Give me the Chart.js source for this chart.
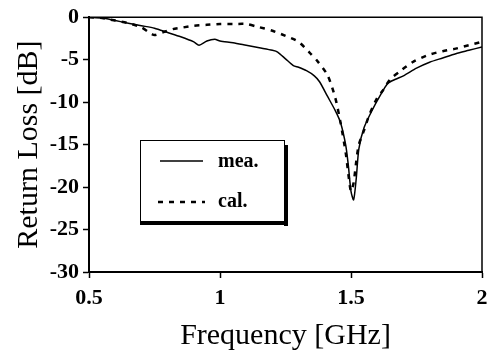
<!DOCTYPE html>
<html>
<head>
<meta charset="utf-8">
<script src="https://cdn.jsdelivr.net/npm/chart.js@4/dist/chart.umd.min.js"></script>
<style>
  body { margin: 0; background: #fff; }
  #wrap { width: 495px; height: 355px; }
</style>
</head>
<body>
<div id="wrap"><canvas id="rlCanvas" width="495" height="355"></canvas></div>
<script>
///// données
let freqMea = [0.5, 0.55, 0.6, 0.65, 0.7, 0.75, 0.8, 0.85, 0.9, 0.92, 0.95, 0.98, 1.0, 1.05, 1.1, 1.15, 1.2, 1.22, 1.25, 1.28, 1.3, 1.33, 1.36, 1.38, 1.41, 1.44, 1.46, 1.48, 1.49, 1.5, 1.51, 1.52, 1.53, 1.55, 1.58, 1.61, 1.64, 1.67, 1.7, 1.75, 1.8, 1.85, 1.9, 1.95, 2.0];
let lossMea = [0, -0.1, -0.4, -0.7, -1.0, -1.3, -1.8, -2.3, -2.9, -3.3, -2.8, -2.6, -2.8, -3.0, -3.3, -3.6, -3.9, -4.1, -4.9, -5.7, -5.9, -6.3, -6.9, -7.6, -9.3, -11.0, -12.4, -15.1, -17.5, -20.5, -21.5, -19.0, -15.5, -13.0, -11.0, -9.3, -7.8, -7.3, -6.9, -6.0, -5.3, -4.8, -4.3, -3.9, -3.5];

let freqCal = [0.5, 0.55, 0.6, 0.65, 0.7, 0.73, 0.75, 0.78, 0.82, 0.86, 0.9, 0.95, 1.0, 1.05, 1.1, 1.14, 1.2, 1.25, 1.3, 1.34, 1.37, 1.41, 1.44, 1.46, 1.48, 1.49, 1.5, 1.51, 1.52, 1.53, 1.55, 1.57, 1.6, 1.62, 1.65, 1.69, 1.74, 1.8, 1.85, 1.9, 1.95, 2.0];
let lossCal = [0, -0.1, -0.4, -0.7, -1.2, -1.8, -2.1, -1.8, -1.4, -1.2, -1.0, -0.9, -0.8, -0.8, -0.8, -1.1, -1.6, -2.2, -2.9, -4.1, -5.1, -6.8, -9.5, -12.4, -16.0, -18.5, -20.5, -19.5, -17.0, -15.0, -13.3, -11.5, -9.5, -8.7, -7.3, -6.3, -5.2, -4.4, -4.0, -3.7, -3.3, -2.9];

let xTicks = [0.5, 1, 1.5, 2];
let yTicks = [0, -5, -10, -15, -20, -25, -30];
let legendLabels = ["mea.", "cal."];

///// points x/y
let ptsMea = [];
for (let i = 0; i < freqMea.length; i++) {
    ptsMea.push({x: freqMea[i], y: lossMea[i]});
}
let ptsCal = [];
for (let i = 0; i < freqCal.length; i++) {
    ptsCal.push({x: freqCal[i], y: lossCal[i]});
}

const serif = "'Liberation Serif', 'DejaVu Serif', serif";

///// cadre haut/droite + légende encadrée
const cadre = {
    id: "cadre",
    afterDraw(chart) {
        const ctx = chart.ctx;
        const a = chart.chartArea;
        ctx.save();
        ctx.strokeStyle = "#000";
        ctx.lineWidth = 1.5;
        ctx.beginPath();
        ctx.moveTo(a.left, a.top);
        ctx.lineTo(a.right, a.top);
        ctx.lineTo(a.right, a.bottom);
        ctx.stroke();

        // légende
        const bx = 140, by = 140, bw = 144, bh = 81;
        ctx.fillStyle = "#fff";
        ctx.fillRect(bx, by, bw, bh);
        ctx.lineWidth = 1;
        ctx.strokeRect(bx + 0.5, by + 0.5, bw, bh);
        ctx.fillStyle = "#000";
        ctx.fillRect(bx, by + bh, bw + 4, 4);
        ctx.fillRect(bx + bw, by + 5, 4, bh);

        ctx.lineWidth = 1.5;
        ctx.setLineDash([]);
        ctx.beginPath();
        ctx.moveTo(160, 161);
        ctx.lineTo(203, 161);
        ctx.stroke();
        ctx.lineWidth = 2.5;
        ctx.setLineDash([5, 6]);
        ctx.beginPath();
        ctx.moveTo(158, 202);
        ctx.lineTo(205, 202);
        ctx.stroke();
        ctx.setLineDash([]);

        ctx.font = "bold 20px " + serif;
        ctx.textBaseline = "middle";
        ctx.textAlign = "left";
        ctx.fillText(legendLabels[0], 218, 162);
        ctx.fillText(legendLabels[1], 218, 202);
        ctx.restore();
    }
};

///// création du graphique
let graph = document.getElementById("rlCanvas");
let rlChart = new Chart(graph, {
    type: "line",
    data: {
        datasets: [{
            data: ptsMea,
            label: legendLabels[0],
            borderColor: "#000",
            borderWidth: 1.5,
            pointRadius: 0,
            tension: 0.25
        }, {
            data: ptsCal,
            label: legendLabels[1],
            borderColor: "#000",
            borderWidth: 2.5,
            borderDash: [5, 6],
            pointRadius: 0,
            tension: 0.25
        }]
    },
    plugins: [cadre],
    options: {
        responsive: false,
        animation: false,
        layout: { padding: { left: 0, top: 13, right: 13, bottom: 0 } },
        plugins: {
            legend: { display: false },
            tooltip: { enabled: false }
        },
        scales: {
            x: {
                type: "linear",
                min: 0.5,
                max: 2,
                afterBuildTicks: (s) => { s.ticks = xTicks.map(v => ({value: v})); },
                afterFit: (s) => { s.height = 83; },
                border: { color: "#000", width: 2 },
                grid: { drawOnChartArea: false, color: "#000", tickLength: 6, tickWidth: 1.5 },
                ticks: {
                    color: "#000",
                    padding: 7,
                    maxRotation: 0,
                    font: { family: serif, size: 22, weight: "bold" },
                    callback: (v) => String(v)
                },
                title: {
                    display: true,
                    text: "Frequency [GHz]",
                    color: "#000",
                    font: { family: serif, size: 30 },
                    padding: { top: 0, bottom: 1 }
                }
            },
            y: {
                min: -30,
                max: 0,
                afterBuildTicks: (s) => { s.ticks = yTicks.map(v => ({value: v})); },
                afterFit: (s) => { s.width = 89; },
                border: { color: "#000", width: 2 },
                grid: { drawOnChartArea: false, color: "#000", tickLength: 6, tickWidth: 1.5 },
                ticks: {
                    color: "#000",
                    padding: 4,
                    font: { family: serif, size: 22, weight: "bold" },
                    callback: (v) => String(v)
                },
                title: {
                    display: true,
                    text: "Return Loss [dB]",
                    color: "#000",
                    font: { family: serif, size: 30 },
                    padding: { top: 11, bottom: 0 }
                }
            }
        }
    }
});
</script>
</body>
</html>
